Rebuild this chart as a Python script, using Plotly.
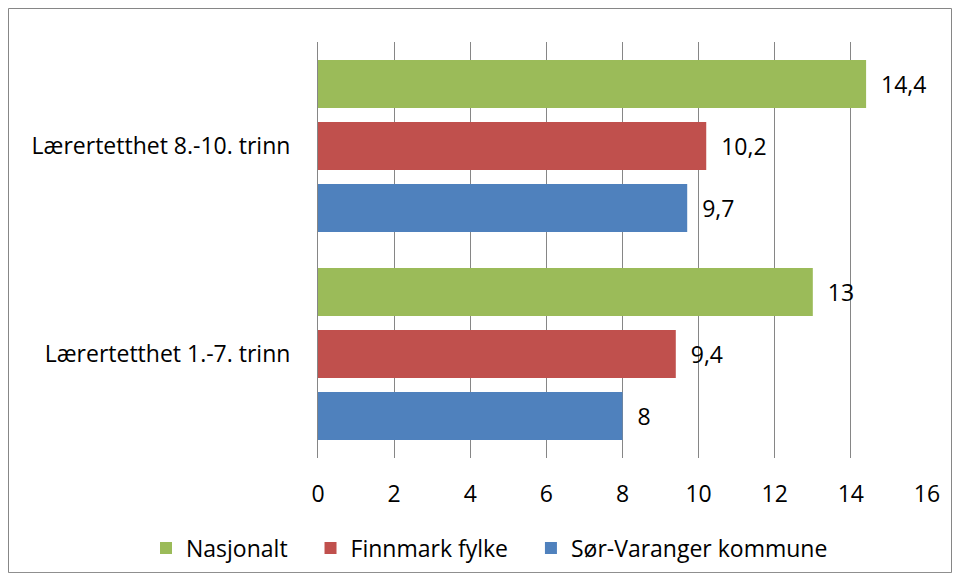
import plotly.graph_objects as go

categories = ['Lærertetthet 1.-7. trinn', 'Lærertetthet 8.-10. trinn']
sor_varanger = [8, 9.7]
finnmark = [9.4, 10.2]
nasjonalt = [13, 14.4]
tick_vals = [0, 2, 4, 6, 8, 10, 12, 14, 16]

series = [
    ('Sør-Varanger kommune', sor_varanger, '#4F81BD'),
    ('Finnmark fylke', finnmark, '#C0504D'),
    ('Nasjonalt', nasjonalt, '#9BBB59'),
]

def fmt(v):
    return ('%g' % v).replace('.', ',')

# figure sits at (8, 8) in the page because of the body margin
W, H = 944, 565
L, R, T, B = 310, 25, 34, 115
FS = 23
PW, PH = W - L - R, H - T - B
PAD = '\u00a0' * 3  # extra room between legend entries

fig = go.Figure()
for name, vals, color in series:
    fig.add_trace(go.Bar(
        y=categories,
        x=vals,
        name=name + PAD,
        orientation='h',
        marker=dict(color=color, line=dict(width=0)),
        text=['  ' + fmt(v) for v in vals],
        textposition='outside',
        textfont=dict(size=FS, color='#000000'),
        cliponaxis=False,
    ))

fig.update_layout(
    barmode='group',
    bargap=0.106,
    bargroupgap=0.225,
    width=W,
    height=H,
    margin=dict(l=L, r=R, t=T, b=B, autoexpand=False),
    plot_bgcolor='white',
    paper_bgcolor='white',
    font=dict(family='Open Sans, sans-serif', size=FS, color='#000000'),
    showlegend=True,
    legend=dict(
        orientation='h',
        traceorder='reversed',
        x=(138 - L) / PW,
        xanchor='left',
        y=(H - B - 540) / PH,
        yanchor='middle',
        font=dict(size=FS),
    ),
    xaxis=dict(
        range=[0, 16],
        tickvals=tick_vals,
        showgrid=True,
        gridcolor='#868686',
        gridwidth=1,
        zeroline=False,
        showline=False,
        ticks='',
        ticklabelstandoff=20,
        automargin=False,
    ),
    yaxis=dict(
        showgrid=False,
        showline=True,
        linecolor='#868686',
        linewidth=1,
        ticks='',
        ticklabelstandoff=22,
        automargin=False,
    ),
)

fig.add_shape(
    type='rect', xref='paper', yref='paper',
    x0=-L / PW + 0.0008, x1=1 + (R - 0.5) / PW,
    y0=-B / PH + 0.001, y1=1 + (T - 0.5) / PH,
    line=dict(color='#868686', width=1),
    layer='below',
)

fig.write_html('out.html')
